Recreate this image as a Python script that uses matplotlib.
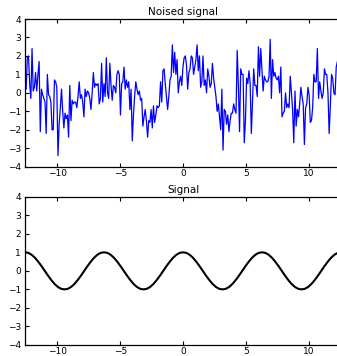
import numpy as np
import matplotlib
matplotlib.use("Agg")
import matplotlib.pyplot as plt

# Noisy samples (evenly spaced, left to right)
noise_values = [
    1.3, 0.2, 1.9, 2.0, 0.5, -0.3, 2.4, 0.1, 0.3, 1.1, 0.1, 1.0, 1.7, -2.1, 0.2, -0.1,
    -0.3, -0.5, -2.2, 1.0, -0.1, -0.2, -0.5, -2.0, -2.0, 0.7, 0.6, 0.3, -3.4, -1.7, -0.8,
    0.2, -1.0, -1.9, -1.1, -1.4, -1.2, -2.4, 0.4, -1.5, -0.4, -0.6, -0.5, -0.5, -0.8, -0.2,
    0.6, -0.3, -0.1, -0.5, -1.3, 0.2, -0.2, 0.1, 0.0, -0.3, -0.9, 0.0, 1.1, 0.3, 0.5, 0.4,
    0.5, -0.6, -0.3, 1.6, -0.5, 0.5, -0.2, 1.9, 0.0, -0.3, 1.6, 0.4, -0.4, 0.4, 0.3, 0.0,
    1.0, 1.2, 1.0, -1.2,
    0.5, 0.6, 1.4, 0.2, 0.7, 0.3, 0.6, -0.9, 0.2, -2.6, -1.2, -0.2, 0.6, 0.2, -0.1, 0.1,
    -0.4, -0.3, -1.8, -1.3, -0.9, -1.5, -2.4, -1.5, -1.6, -0.9, -1.9, -0.7, -1.6, -1.2,
    -0.7, -0.8, -0.7, 0.6, -0.5, 1.2, 1.3, 0.5, -0.2, -0.9, -0.2, 0.7, 0.9, 2.6, 1.1, 2.2,
    1.0, 1.8, 0.0, 0.6, 0.9, 0.4, 1.4, 1.9, 2.0, 1.5, 0.2, 1.1, 1.3, 2.0, 1.9, 1.0, 1.4,
    1.8, 2.6, 1.2, 2.0, 0.3, 0.6, 2.0, 0.4, 0.7, 0.0, 1.3, 0.9, 0.3, 0.5, 1.6, 0.8, 0.3,
    -0.2, -1.0, -0.6, -1.3, -2.0,
    0.2, -3.1, -0.9, -1.0, -1.7, -1.2, -2.1, -1.5, -1.1, -1.1, -0.6, -0.9, -1.1, 2.3, 0.4,
    -2.1, 1.3, 1.0, 1.0, -2.7, -1.5, 0.8, 0.5, 1.2, 0.5, -2.2, -0.5, 1.3, 0.4, 0.4, -0.2,
    2.5, 0.9, 2.4, 1.3, 0.1, 0.9, 0.7, 0.6, 0.6, 0.9, 2.9, -0.3, 1.8, 0.9, 1.1, 0.8, 0.7,
    0.9, 0.0, 1.4, -1.3, -1.1, -1.0, 0.0, -0.8, -0.6, -0.8, 0.9, 0.0, -0.9, -2.7, 0.1,
    -1.8, -0.9, -1.3, -0.6, 0.3, -0.2, -0.6, -2.8, -0.8, -0.6, 0.3, -0.1, -1.6, -1.5, -0.8,
    1.0, 0.6, 0.6, 2.4, -0.3, 0.6, 0.1, -0.3, 0.0, 1.3, 1.0, 1.0, 0.0, -2.2, -0.7, 1.0,
    0.8, 0.0, -0.1, 1.4, 1.7,
]
noise_x_start = -12.57
noise_x_end = 12.28

signal_values = [
    1.0, 0.97, 0.87, 0.71, 0.5, 0.26, 0.0, -0.26, -0.5, -0.71, -0.87, -0.97,
    -1.0, -0.97, -0.87, -0.71, -0.5, -0.26, 0.0, 0.26, 0.5, 0.71, 0.87, 0.97,
    1.0, 0.97, 0.87, 0.71, 0.5, 0.26, 0.0, -0.26, -0.5, -0.71, -0.87, -0.97,
    -1.0, -0.97, -0.87, -0.71, -0.5, -0.26, 0.0, 0.26, 0.5, 0.71, 0.87, 0.97,
    1.0, 0.97, 0.87, 0.71, 0.5, 0.26, 0.0, -0.26, -0.5, -0.71, -0.87, -0.97,
    -1.0, -0.97, -0.87, -0.71, -0.5, -0.26, 0.0, 0.26, 0.5, 0.71, 0.87, 0.97,
    1.0, 0.97, 0.87, 0.71, 0.5, 0.26, 0.0, -0.26, -0.5, -0.71, -0.87, -0.97,
    -1.0, -0.97, -0.87, -0.71, -0.5, -0.26, 0.0, 0.26, 0.5, 0.71, 0.87, 0.97,
    1.0,
]
signal_x_start = -4 * np.pi
signal_x_end = 4 * np.pi

titles = ["Noised signal", "Signal"]
x_ticks = [-10, -5, 0, 5, 10]
y_ticks = [-4, -3, -2, -1, 0, 1, 2, 3, 4]

plt.rcParams['font.family'] = ['DejaVu Sans']
plt.rcParams['font.size'] = 7

fig = plt.figure(figsize=(3.37, 3.56), dpi=100)
fig.patch.set_facecolor('white')

ax_w = 0.9377
ax1 = fig.add_axes([0.0742, 0.5317, ax_w, 0.4149])
ax2 = fig.add_axes([0.0742, 0.0309, ax_w, 0.4166])

nx = np.linspace(noise_x_start, noise_x_end, len(noise_values))
sx = np.linspace(signal_x_start, signal_x_end, len(signal_values))

ax1.plot(nx, noise_values, color='#0000ff', lw=0.9)
ax2.plot(sx, signal_values, color='black', lw=1.5)

for ax, title in zip([ax1, ax2], titles):
    ax.set_xlim(-4 * np.pi, 4 * np.pi)
    ax.set_ylim(-4, 4)
    ax.set_xticks(x_ticks)
    ax.set_yticks(y_ticks)
    ax.set_title(title, fontsize=7.5, pad=3)
    ax.tick_params(direction='in', length=3, width=0.8, top=True, right=True,
                   labelsize=6.5, colors='black')
    ax.tick_params(axis='x', pad=1.5)
    ax.tick_params(axis='y', pad=3)
    for s in ax.spines.values():
        s.set_linewidth(0.9)
        s.set_color('black')

fig.savefig('out.png', dpi=100, facecolor='white')
